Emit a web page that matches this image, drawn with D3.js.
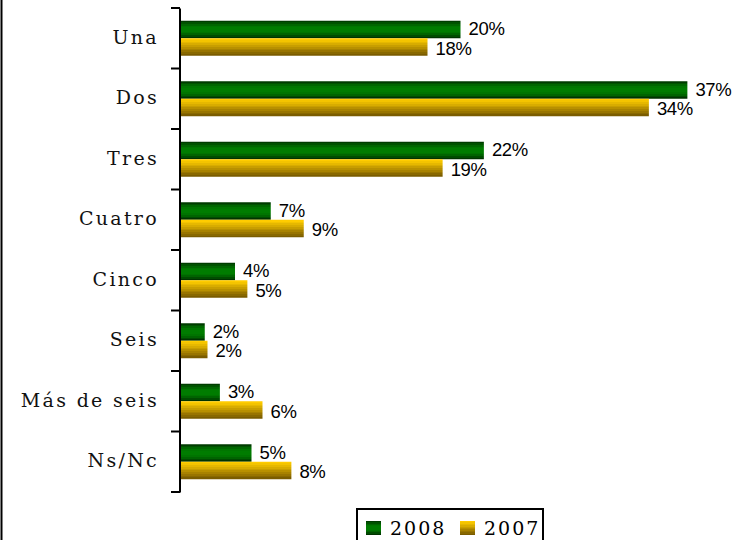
<!DOCTYPE html>
<html>
<head>
<meta charset="utf-8">
<script src="https://cdn.jsdelivr.net/npm/d3@7"></script>
<style>
  html, body { margin: 0; padding: 0; background: #fff; }
  svg { display: block; }
</style>
</head>
<body>
<svg id="chart" width="748" height="540"></svg>
<script>
const categories = ["Una", "Dos", "Tres", "Cuatro", "Cinco", "Seis", "Más de seis", "Ns/Nc"];
const seriesNames = ["2008", "2007"];
const values2008 = [20.4, 36.9, 22.1, 6.6, 4.0, 1.8, 2.9, 5.2];
const values2007 = [18.0, 34.1, 19.1, 9.0, 4.9, 2.0, 6.0, 8.1];
const labels2008 = ["20%", "37%", "22%", "7%", "4%", "2%", "3%", "5%"];
const labels2007 = ["18%", "34%", "19%", "9%", "5%", "2%", "6%", "8%"];

const svg = d3.select("#chart");
const defs = svg.append("defs");

// stepped vertical gradients
function stepGrad(id, colors) {
  const g = defs.append("linearGradient").attr("id", id)
    .attr("x1", 0).attr("y1", 0).attr("x2", 0).attr("y2", 1);
  const n = colors.length;
  colors.forEach((c, i) => {
    g.append("stop").attr("offset", i / n).attr("stop-color", c);
    g.append("stop").attr("offset", (i + 1) / n).attr("stop-color", c);
  });
}
stepGrad("gGreen", ["#003c00", "#005200", "#006600", "#007600", "#007c00", "#007c00", "#007c00", "#007400", "#006400", "#004c00", "#003300"]);
stepGrad("gYellow", ["#ffcc00", "#f4c400", "#e6b800", "#d8ac00", "#c89e00", "#b89000", "#a88200", "#987400", "#886800", "#7a5c00"]);

const x0 = 180;
const x = d3.scaleLinear().domain([0, 40]).range([x0, x0 + 550]);
const y = d3.scaleBand().domain(categories).range([8, 492]).paddingInner(0).paddingOuter(0);
const barH = 17.5;

// left frame line
svg.append("line").attr("x1", 1.5).attr("x2", 1.5).attr("y1", 0).attr("y2", 540)
  .attr("stroke", "#000").attr("stroke-width", 2);

// bars
const series = [
  { name: seriesNames[0], vals: values2008, labels: labels2008, fill: "url(#gGreen)", off: -barH, dy: 5.5 },
  { name: seriesNames[1], vals: values2007, labels: labels2007, fill: "url(#gYellow)", off: 0, dy: 7.5 }
];

series.forEach(s => {
  const g = svg.append("g");
  g.selectAll("rect").data(categories).join("rect")
    .attr("x", x(0))
    .attr("y", (d) => y(d) + y.bandwidth() / 2 + s.off)
    .attr("width", (d, i) => x(s.vals[i]) - x(0))
    .attr("height", barH)
    .attr("fill", s.fill);
  g.selectAll("text").data(categories).join("text")
    .attr("x", (d, i) => x(s.vals[i]) + 8)
    .attr("y", (d) => y(d) + y.bandwidth() / 2 + s.off + barH / 2 + s.dy)
    .attr("font-family", "Liberation Sans, Arial, sans-serif")
    .attr("font-size", 18.5)
    .attr("letter-spacing", -0.3)
    .attr("fill", "#000")
    .text((d, i) => s.labels[i]);
});

// axis
const axis = d3.axisLeft(y).tickSize(0).tickFormat("");
const ax = svg.append("g").attr("transform", `translate(${x0 - 0.5},0)`).call(axis);
ax.select(".domain").attr("stroke", "#000").attr("stroke-width", 2);
// ticks at band boundaries
const bounds = categories.map(c => y(c)).concat([y.range()[1]]);
svg.append("g").selectAll("line").data(bounds).join("line")
  .attr("x1", x0 - 9).attr("x2", x0).attr("y1", d => d).attr("y2", d => d)
  .attr("stroke", "#000").attr("stroke-width", 2);

// category labels
svg.append("g").selectAll("text").data(categories).join("text")
  .attr("x", 159)
  .attr("y", d => y(d) + y.bandwidth() / 2 + 5.5)
  .attr("text-anchor", "end")
  .attr("font-family", "DejaVu Serif, serif")
  .attr("font-size", 19)
  .attr("letter-spacing", 2.3)
  .attr("fill", "#111")
  .text(d => d);

// legend
const lg = svg.append("g");
lg.append("rect").attr("x", 357).attr("y", 509).attr("width", 186).attr("height", 40)
  .attr("fill", "#fff").attr("stroke", "#000").attr("stroke-width", 2);
const legendItems = [
  { name: seriesNames[0], fill: "url(#gGreen)", sx: 366, tx: 390 },
  { name: seriesNames[1], fill: "url(#gYellow)", sx: 460, tx: 484 }
];
legendItems.forEach(it => {
  lg.append("rect").attr("x", it.sx).attr("y", 521).attr("width", 15).attr("height", 14).attr("fill", it.fill);
  lg.append("text").attr("x", it.tx).attr("y", 535)
    .attr("font-family", "DejaVu Serif, serif").attr("font-size", 19)
    .attr("letter-spacing", 2).attr("fill", "#000").text(it.name);
});
</script>
</body>
</html>
